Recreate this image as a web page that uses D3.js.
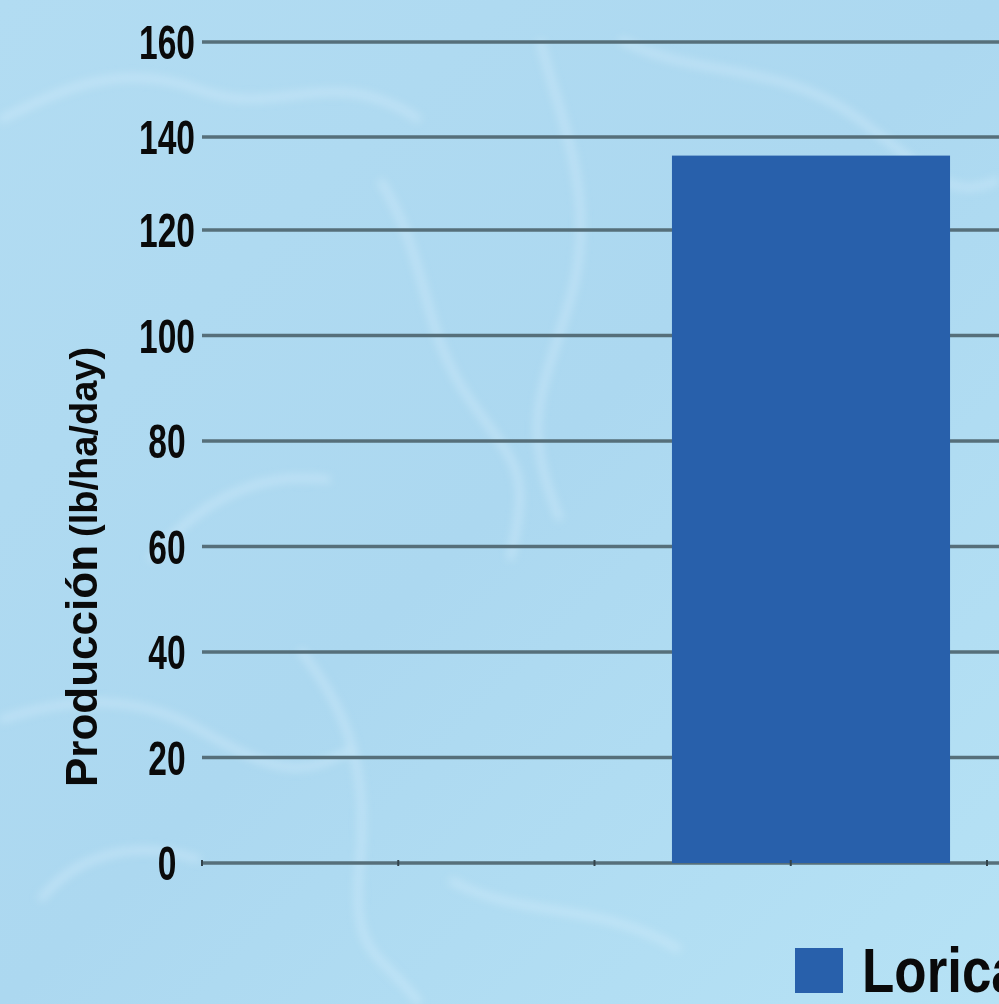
<!DOCTYPE html>
<html>
<head>
<meta charset="utf-8">
<script src="https://cdn.jsdelivr.net/npm/d3@7"></script>
<style>
  html, body { margin: 0; padding: 0; overflow: hidden; background: #b3def3; }
  svg { display: block; }
</style>
</head>
<body>
<svg id="chart" width="999" height="1004"></svg>
<script>
// ---- data ----
const yTicks = [0, 20, 40, 60, 80, 100, 120, 140, 160];
const seriesNames = ["Lorica"];
const seriesValues = [136];
const axisSlots = [0, 1, 2, 3, 4];
const yTitleMain = "Producción";
const yTitleUnit = "(lb/ha/day)";
const barColor = "#2860ab";

const svg = d3.select("#chart");
const W = 999, H = 1004;

// ---- background (water) ----
const defs = svg.append("defs");
const lg = defs.append("linearGradient").attr("id", "bg").attr("x1", 0).attr("y1", 0).attr("x2", 1).attr("y2", 1);
lg.append("stop").attr("offset", 0).attr("stop-color", "#b2dcf2");
lg.append("stop").attr("offset", 0.5).attr("stop-color", "#acd8f0");
lg.append("stop").attr("offset", 1).attr("stop-color", "#b6e2f5");
svg.append("rect").attr("width", W).attr("height", H).attr("fill", "url(#bg)");
const blur = defs.append("filter").attr("id", "blur");
blur.append("feGaussianBlur").attr("stdDeviation", 4);
const caustics = [
  "M0,120 C60,90 120,60 200,90 S330,60 420,120",
  "M540,40 C560,120 600,200 570,300 S520,420 560,520",
  "M380,180 C430,260 420,330 470,400 S530,470 510,560",
  "M0,720 C60,700 130,690 200,730 S300,780 350,750",
  "M300,650 C340,700 370,760 360,860 S380,950 420,1004",
  "M150,560 C200,500 260,470 330,480",
  "M620,40 C700,80 780,60 860,120 S950,200 999,180",
  "M40,900 C80,850 140,840 200,860",
  "M450,880 C520,920 600,900 680,950"
];
svg.append("g").attr("filter", "url(#blur)")
  .selectAll("path").data(caustics).join("path")
  .attr("d", d => d).attr("fill", "none")
  .attr("stroke", "#dff3fc").attr("stroke-width", 7).attr("opacity", 0.4);

// ---- scales ----
const y = d3.scaleLinear().domain([0, 120, 140, 160]).range([863, 230, 137, 42]);
const xTick = d3.scaleLinear().domain([0, 4]).range([202, 987]);
const xBar = d3.scaleBand().domain(seriesNames).range([202, 1420]).paddingOuter(1.69).paddingInner(0);

// ---- gridlines ----
svg.append("g").selectAll("line").data(yTicks).join("line")
  .attr("x1", 202).attr("x2", W)
  .attr("y1", d => y(d)).attr("y2", d => y(d))
  .attr("stroke", "#566f7a").attr("stroke-width", 3.5);

// ---- y tick labels ----
svg.append("g").selectAll("text").data(yTicks).join("text")
  .attr("transform", d => `translate(167,${y(d)}) scale(0.7,1)`)
  .attr("text-anchor", "middle").attr("dy", "0.36em")
  .attr("font-family", "Liberation Sans, Arial, sans-serif")
  .attr("font-weight", "bold").attr("font-size", 48).attr("fill", "#0a0a0a")
  .text(d => d);

// ---- bars ----
svg.append("g").selectAll("rect").data(seriesValues).join("rect")
  .attr("x", (d, i) => xBar(seriesNames[i]))
  .attr("width", xBar.bandwidth())
  .attr("y", d => y(d))
  .attr("height", d => y(0) - y(d))
  .attr("fill", barColor);

// ---- x axis small ticks ----
svg.append("g").selectAll("line").data(axisSlots).join("line")
  .attr("x1", d => xTick(d)).attr("x2", d => xTick(d))
  .attr("y1", y(0) - 3).attr("y2", y(0) + 3)
  .attr("stroke", "#33444c").attr("stroke-width", 2);

// ---- y axis title ----
const t = svg.append("text")
  .attr("transform", "translate(97,787) rotate(-90)")
  .attr("font-family", "Liberation Sans, Arial, sans-serif")
  .attr("font-weight", "bold").attr("fill", "#0a0a0a");
t.append("tspan").attr("font-size", 44).text(yTitleMain);
t.append("tspan").attr("font-size", 38).attr("dx", 8).text(yTitleUnit);

// ---- legend ----
const leg = svg.append("g").attr("transform", "translate(795,948)");
leg.append("rect").attr("width", 48).attr("height", 45).attr("fill", barColor);
svg.append("text").attr("transform", "translate(862,992) scale(0.84,1)")
  .attr("font-family", "Liberation Sans, Arial, sans-serif")
  .attr("font-weight", "bold").attr("font-size", 63).attr("fill", "#0a0a0a")
  .text(seriesNames[0]);
</script>
</body>
</html>
